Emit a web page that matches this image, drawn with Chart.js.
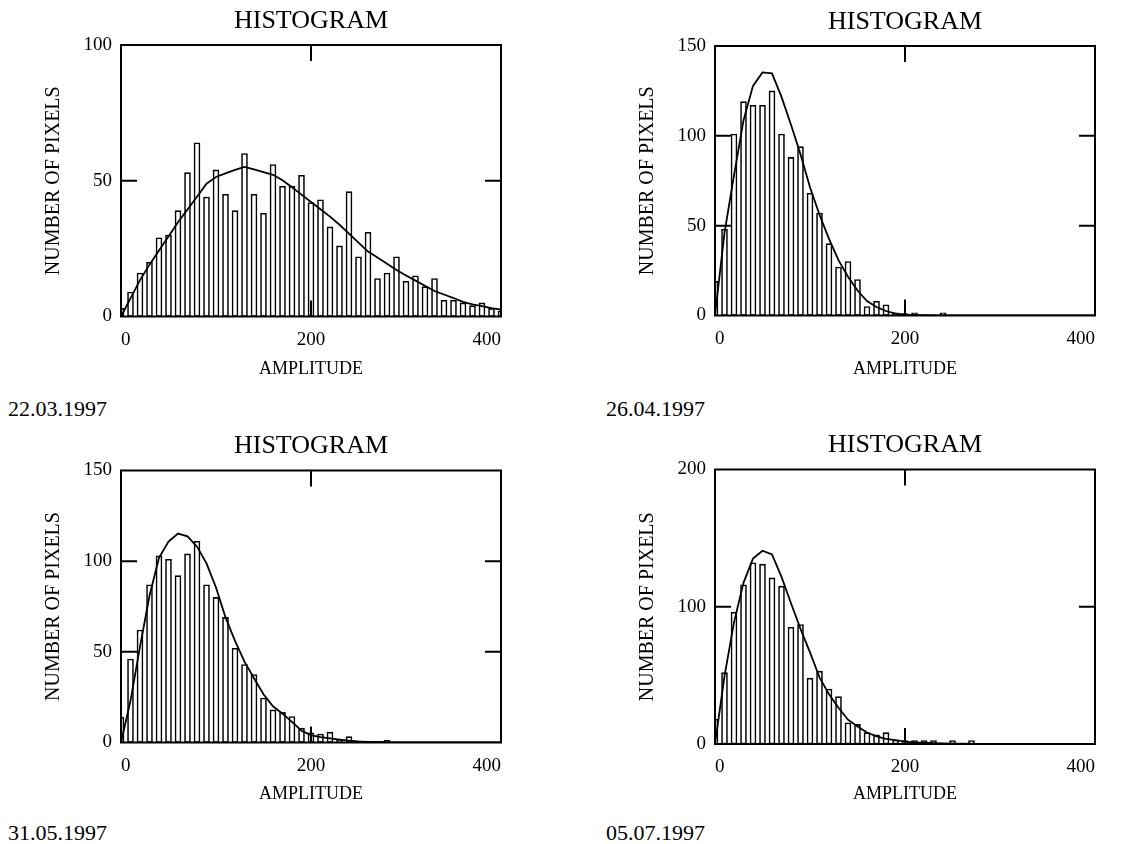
<!DOCTYPE html>
<html lang="en">
  <head>
    <meta charset="UTF-8" />
    <script src="https://cdn.jsdelivr.net/npm/chart.js@4.4.0/dist/chart.umd.min.js"></script>
    <title>Histogram</title>
    <style>
      body {
        margin: 0;
        padding: 0;
        background: white;
        width: 1129px;
        height: 844px;
        position: relative;
        overflow: hidden;
      }
      canvas {
        position: absolute;
      }
      .date {
        position: absolute;
        font: 22px 'Liberation Serif', 'Times New Roman', serif;
        line-height: 22px;
        color: #000;
      }
    </style>
  </head>
  <body>
    <canvas id="c1" width="530" height="390" style="left:0;top:0"></canvas>
    <canvas id="c2" width="530" height="390" style="left:594px;top:0"></canvas>
    <canvas id="c3" width="530" height="390" style="left:0;top:425px"></canvas>
    <canvas id="c4" width="530" height="390" style="left:594px;top:425px"></canvas>
    <div class="date" style="left:8px;top:398px">22.03.1997</div>
    <div class="date" style="left:606px;top:398px">26.04.1997</div>
    <div class="date" style="left:8px;top:822px">31.05.1997</div>
    <div class="date" style="left:606px;top:822px">05.07.1997</div>
    <script>
      // bin centres (amplitude)
      const amplitude = [
        0, 10, 20, 30, 40, 50, 60, 70, 80, 90,
        100, 110, 120, 130, 140, 150, 160, 170, 180, 190,
        200, 210, 220, 230, 240, 250, 260, 270, 280, 290,
        300, 310, 320, 330, 340, 350, 360, 370, 380, 390,
        400,
      ]

      const counts1 = [
        3, 9, 16, 20, 29, 30, 39, 53, 64, 44,
        54, 45, 39, 60, 45, 38, 56, 48, 48, 52,
        42, 43, 33, 26, 46, 22, 31, 14, 16, 22,
        13, 15, 11, 14, 6, 6, 5, 4, 5, 3,
        2,
      ]
      const fit1 = [
        0, 6.7, 13.4, 19.1, 24.3, 29.5, 34.7, 39.4, 44.1, 48.9,
        51.4, 52.7, 54, 55.1, 54.2, 53.2, 52.2, 50.2, 47.6, 44.9,
        42.2, 39.5, 36.8, 33.8, 30.5, 27.2, 23.9, 21.7, 19.4, 17.1,
        15.1, 13.2, 11.3, 9.4, 8.1, 6.8, 5.4, 4.5, 3.8, 3.1,
        2.5,
      ]

      const counts2 = [
        19, 48, 101, 119, 117, 117, 125, 101, 88, 94,
        68, 57, 40, 27, 30, 20, 5, 8, 6, 1.5,
        1, 1.5, 0, 0, 1.5, 0, 0, 0, 0, 0,
        0, 0, 0, 0, 0, 0, 0, 0, 0, 0,
        0,
      ]
      const fit2 = [
        0, 46, 78, 108.6, 127.8, 135.3, 134.8, 121.7, 106.2, 89.8,
        71.4, 56.1, 42.7, 30.8, 21.6, 13.9, 8, 4.7, 2.5, 1,
        0.5, 0.3, 0.2, 0.1, 0.1, 0, 0, 0, 0, 0,
        0, 0, 0, 0, 0, 0, 0, 0, 0, 0,
        0,
      ]

      const counts3 = [
        14, 46, 62, 87, 103, 101, 92, 104, 111, 87,
        80, 69, 52, 43, 37.5, 24.5, 18, 16.6, 14.3, 7.9,
        5.4, 4.7, 5.7, 1.5, 3.2, 0, 0, 0, 1.2, 0,
        0, 0, 0, 0, 0, 0, 0, 0, 0, 0,
        0,
      ]
      const fit3 = [
        0, 23, 52.9, 80.9, 101.8, 110.8, 115.2, 113.7, 108, 98.8,
        85.5, 69, 56, 44.6, 35.4, 26.6, 20, 15.9, 11.4, 6.5,
        4.1, 3, 2.3, 1.6, 1, 0.6, 0.4, 0.3, 0.2, 0.1,
        0, 0, 0, 0, 0, 0, 0, 0, 0, 0,
        0,
      ]

      const counts4 = [
        18, 52, 96, 116, 132, 131, 121, 115, 85, 87,
        48, 53, 40, 34.5, 15.5, 14.3, 8.3, 6.6, 8.3, 2.9,
        2.5, 2.5, 2.5, 2.5, 0, 2.5, 0, 2.5, 0, 0,
        0, 0, 0, 0, 0, 0, 0, 0, 0, 0,
        0,
      ]
      const fit4 = [
        0, 49.4, 88.6, 117.4, 135.1, 140.8, 138.1, 121.8, 102.6, 83.9,
        66.7, 48.5, 36.2, 26.4, 17.7, 12.8, 8.4, 5.6, 3.7, 2.9,
        1.7, 1.2, 0.9, 0.6, 0.4, 0.3, 0.2, 0.1, 0.1, 0.1,
        0, 0, 0, 0, 0, 0, 0, 0, 0, 0,
        0,
      ]

      const xTicks = [0, 200, 400]
      const yMax = [100, 150, 150, 200]
      const yStep = [50, 50, 50, 100]

      Chart.defaults.font.family = "'Liberation Serif', 'Times New Roman', serif"
      Chart.defaults.color = '#000'

      // frame + inward tick marks at the inner tick values
      const framePlugin = {
        id: 'frame',
        afterDatasetsDraw(chart) {
          const { ctx, chartArea: a, scales } = chart
          const x = scales.x
          const y = scales.y
          ctx.save()
          ctx.strokeStyle = '#000'
          ctx.lineWidth = 2
          ctx.strokeRect(a.left, a.top, a.right - a.left, a.bottom - a.top)
          ctx.beginPath()
          x.ticks.forEach((t) => {
            if (t.value > x.min && t.value < x.max) {
              const px = x.getPixelForValue(t.value)
              ctx.moveTo(px, a.top)
              ctx.lineTo(px, a.top + 16)
              ctx.moveTo(px, a.bottom)
              ctx.lineTo(px, a.bottom - 16)
            }
          })
          y.ticks.forEach((t) => {
            if (t.value > y.min && t.value < y.max) {
              const py = y.getPixelForValue(t.value)
              ctx.moveTo(a.left, py)
              ctx.lineTo(a.left + 16, py)
              ctx.moveTo(a.right, py)
              ctx.lineTo(a.right - 16, py)
            }
          })
          ctx.stroke()
          ctx.restore()
        },
      }

      // plotTop / plotBottom are relative to each canvas
      const makeChart = (id, counts, fit, max, step, plotTop, plotBottom) => {
        const canvasHeight = 390
        new Chart(document.getElementById(id), {
          type: 'bar',
          data: {
            datasets: [
              {
                type: 'line',
                data: amplitude.map((a, i) => ({ x: a, y: fit[i] })),
                borderColor: '#000',
                borderWidth: 1.8,
                pointRadius: 0,
                tension: 0,
                fill: false,
                order: 0,
              },
              {
                type: 'bar',
                data: amplitude.map((a, i) => ({ x: a, y: counts[i] })),
                backgroundColor: '#fff',
                borderColor: '#000',
                borderWidth: 1.6,
                borderSkipped: false,
                barThickness: 6,
                order: 1,
              },
            ],
          },
          options: {
            responsive: false,
            animation: false,
            layout: { padding: { left: 0, right: 29, top: 0, bottom: 0 } },
            plugins: {
              legend: { display: false },
              tooltip: { enabled: false },
              title: {
                display: true,
                text: 'HISTOGRAM',
                fullSize: false,
                font: { size: 26, weight: 'normal' },
                padding: { top: plotTop - 39.7, bottom: 8.5 },
              },
            },
            scales: {
              x: {
                type: 'linear',
                min: 0,
                max: 400,
                offset: false,
                afterBuildTicks: (scale) => {
                  scale.ticks = xTicks.map((v) => ({ value: v }))
                },
                afterFit: (scale) => {
                  scale.height = canvasHeight - plotBottom
                },
                grid: { display: false, drawTicks: false },
                border: { display: false },
                ticks: {
                  align: 'inner',
                  padding: 12,
                  maxRotation: 0,
                  font: { size: 19 },
                },
                title: {
                  display: true,
                  text: 'AMPLITUDE',
                  font: { size: 18 },
                  padding: { top: 0, bottom: 10 },
                },
              },
              y: {
                min: 0,
                max: max,
                afterFit: (scale) => {
                  scale.width = 121
                },
                grid: { display: false, drawTicks: false },
                border: { display: false },
                ticks: {
                  stepSize: step,
                  padding: 9,
                  font: { size: 19 },
                },
                title: {
                  display: true,
                  text: 'NUMBER OF PIXELS',
                  font: { size: 20 },
                  padding: { top: 42, bottom: 0 },
                },
              },
            },
          },
          plugins: [framePlugin],
        })
      }

      makeChart('c1', counts1, fit1, yMax[0], yStep[0], 45, 316.5)
      makeChart('c2', counts2, fit2, yMax[1], yStep[1], 46, 315.5)
      makeChart('c3', counts3, fit3, yMax[2], yStep[2], 45.5, 317.5)
      makeChart('c4', counts4, fit4, yMax[3], yStep[3], 44.5, 319)
    </script>
  </body>
</html>
